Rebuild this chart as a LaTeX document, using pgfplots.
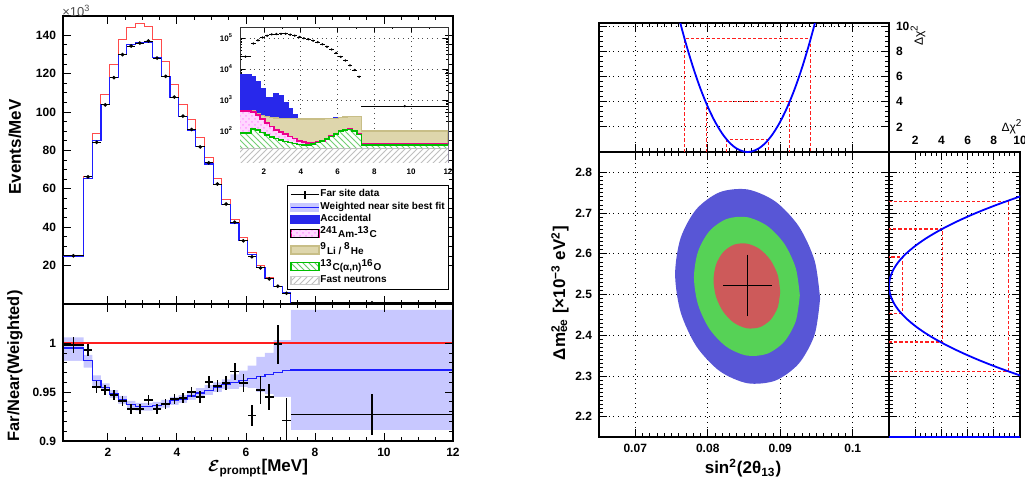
\documentclass[border=0pt]{standalone}
\usepackage{fontspec}
\setmainfont{Liberation Sans}
\usepackage{pgfplots}
\pgfplotsset{compat=1.18}
\usepackage{pgfplotstable}
\usetikzlibrary{patterns}

\definecolor{rootblue}{RGB}{30,30,255}
\definecolor{bandblue}{RGB}{200,200,255}
\definecolor{accblue}{RGB}{40,40,235}
\definecolor{litan}{RGB}{222,214,172}
\definecolor{litanline}{RGB}{200,190,135}
\definecolor{amcpink}{RGB}{255,215,255}
\definecolor{ellblue}{RGB}{88,86,214}
\definecolor{ellgreen}{RGB}{86,210,86}
\definecolor{ellred}{RGB}{205,90,90}
\definecolor{rootred}{RGB}{255,30,30}

\pgfplotsset{
  rootstyle/.style={
    scale only axis,
    scaled ticks=false,
    tick align=inside,
    axis line style={line width=0.6pt},
    major tick length=4pt, minor tick length=2pt,
    tick style={line width=0.4pt, black},
    tick label style={font=\bfseries\fontsize{6}{7}\selectfont},
    /pgf/number format/assume math mode=true,
  },
  rootgrid/.style={grid=major, grid style={dotted, black, line width=0.4pt}},
  chisq/.style={draw=rootred, color=rootred, dash pattern=on 1.6pt off 1pt, line width=0.7pt},
}

% prompt spectrum, per MeV (x10^3), bins given by lower edge
\pgfplotstableread{
lo    blue   red
0.7   25.0   25.1
1.3   65.5   66.5
1.55  85.0   89.0
1.8   104.0  109.0
2.05  118.0  125.0
2.3   130.0  138.0
2.55  135.0  143.8
2.8   136.2  146.0
3.05  136.0  144.5
3.3   128.5  138.0
3.55  118.6  126.4
3.8   107.6  114.3
4.05  97.8   103.9
4.3   90.5   95.9
4.55  82.1   86.6
4.8   72.9   76.5
5.05  62.4   65.4
5.3   52.0   54.3
5.55  42.1   43.9
5.8   33.0   34.4
6.05  25.6   26.6
6.3   19.1   19.8
6.55  13.4   13.9
6.8   9.0    9.3
7.05  5.9    6.1
7.3   0.63   0.65
12    0.63   0.65
}\spectrum

% far site data
\pgfplotstableread{
x      y      ex     ey    yi
1.0    25.1   0.3    0.5   25100
1.425  66.2   0.125  0.6   66200
1.675  84.2   0.125  0.6   84200
1.925  103.7  0.125  0.6   103700
2.175  117.9  0.125  0.6   117900
2.425  129.9  0.125  0.6   129900
2.675  134.4  0.125  0.6   134400
2.925  135.9  0.125  0.6   135900
3.175  137.0  0.125  0.6   137000
3.425  128.1  0.125  0.6   128100
3.675  118.6  0.125  0.6   118600
3.925  107.8  0.125  0.6   107800
4.175  97.9   0.125  0.6   97900
4.425  90.9   0.125  0.6   90900
4.675  81.8   0.125  0.6   81800
4.925  73.5   0.125  0.6   73500
5.175  62.5   0.125  0.6   62500
5.425  52.1   0.125  0.6   52100
5.675  42.6   0.125  0.6   42600
5.925  32.9   0.125  0.6   32900
6.175  24.6   0.125  0.5   24600
6.425  18.8   0.125  0.5   18800
6.675  13.1   0.125  0.4   13100
6.925  9.3    0.125  0.4   9300
7.175  5.6    0.125  0.3   5600
9.65   0.6    2.35   0.1   630
}\fardata

% far/near ratio: data points
\pgfplotstableread{
x      r      ex     er
1.0    0.998  0.3    0.008
1.425  0.993  0.125  0.006
1.675  0.955  0.125  0.006
1.925  0.952  0.125  0.005
2.175  0.947  0.125  0.005
2.425  0.941  0.125  0.005
2.675  0.933  0.125  0.005
2.925  0.933  0.125  0.005
3.175  0.942  0.125  0.005
3.425  0.933  0.125  0.005
3.675  0.938  0.125  0.005
3.925  0.943  0.125  0.005
4.175  0.944  0.125  0.005
4.425  0.950  0.125  0.005
4.675  0.945  0.125  0.006
4.925  0.960  0.125  0.006
5.175  0.956  0.125  0.006
5.425  0.959  0.125  0.007
5.675  0.971  0.125  0.009
5.925  0.959  0.125  0.009
6.175  0.926  0.125  0.011
6.425  0.952  0.125  0.014
6.675  0.945  0.125  0.013
6.925  0.999  0.125  0.020
7.175  0.921  0.125  0.023
9.65   0.927  2.35   0.021
}\ratiodata

% far/near ratio: weighted near prediction and its band
\pgfplotstableread{
lo    rb      up     low
0.7   0.995   1.006  0.982
1.3   0.982   0.988  0.975
1.55  0.962   0.967  0.956
1.8   0.955   0.959  0.951
2.05  0.948   0.952  0.944
2.3   0.942   0.946  0.938
2.55  0.937   0.941  0.933
2.8   0.935   0.939  0.931
3.05  0.935   0.939  0.931
3.3   0.936   0.940  0.932
3.55  0.938   0.942  0.934
3.8   0.941   0.945  0.937
4.05  0.943   0.947  0.939
4.3   0.946   0.950  0.942
4.55  0.949   0.954  0.944
4.8   0.952   0.957  0.947
5.05  0.955   0.960  0.950
5.3   0.958   0.963  0.953
5.55  0.960   0.968  0.953
5.8   0.962   0.972  0.955
6.05  0.964   0.977  0.954
6.3   0.966   0.986  0.950
6.55  0.968   0.990  0.948
6.8   0.970   1.003  0.945
7.05  0.972   1.003  0.945
7.3   0.9725  1.034  0.911
12    0.9725  1.034  0.911
}\ratiopred

% backgrounds, stacked tops (events/MeV)
\pgfplotstableread{
lo    acc   li    amc   an
0.7   6700  470   430   88
1.3   5500  440   400   117
1.55  3800  370   320   108
1.8   2300  320   240   90
2.05  1150  290   180   75
2.3   1150  272   140   65
2.55  1650  262   110   57
2.8   1350  255   92    51
3.05  800   250   78    46
3.3   520   248   66    42
3.55  330   246   57    39
3.8   252   245   49    37
4.05  250   244   44    36
4.3   250   243   41    36
4.55  250   243   41    38
4.8   250   243   44    42
5.05  250   244   49    47
5.3   252   246   57    55
5.55  256   250   68    66
5.8   262   256   82    80
6.05  276   270   100   98
6.3   290   284   112   110
6.55  300   294   114   112
6.8   300   294   102   100
7.05  290   285   80    78
7.3   104   100   37    35
12    104   100   37    35
}\bkg

\begin{document}
\begin{tikzpicture}
\useasboundingbox (0pt,0pt) rectangle (512.5pt,-244pt);

% ---------------- spectrum
\begin{axis}[rootstyle, at={(31.5pt,-8pt)}, anchor=north west,
  width=195pt, height=144pt,
  xmin=0.7, xmax=12, ymin=0, ymax=150,
  xtick={2,4,...,12}, xticklabels={}, minor x tick num=3,
  ytick={20,40,...,140}, minor y tick num=3,
  legend cell align=left,
  legend style={at={(0.574,0.413)}, anchor=north west, draw=black,
    line width=0.5pt, font=\bfseries\fontsize{5}{5.5}\selectfont,
    nodes={inner sep=0.45pt}, inner sep=1.5pt, row sep=0.2pt},
]
\addplot[const plot, color=rootred!80, line width=0.5pt, forget plot] table[x=lo, y=red] {\spectrum};
\addplot[const plot, color=rootblue, line width=0.6pt, forget plot] table[x=lo, y=blue] {\spectrum};
\addplot[black, only marks, mark=*, mark size=0.7pt, forget plot,
  error bars/.cd, x dir=both, x explicit, y dir=both, y explicit,
  error mark=none, error bar style={black, line width=0.45pt}]
  table[x=x, y=y, x error=ex, y error=ey] {\fardata};

\addlegendimage{legend image code/.code={
  \draw[black, line width=0.6pt] (0pt,0pt) -- (14pt,0pt);
  \draw[black, line width=0.6pt] (7pt,-2pt) -- (7pt,2pt);}}
\addlegendentry{Far site data}
\addlegendimage{legend image code/.code={
  \fill[bandblue] (0pt,-2pt) rectangle (14pt,2pt);
  \draw[rootblue, line width=0.5pt] (0pt,0pt) -- (14pt,0pt);}}
\addlegendentry{Weighted near site best fit}
\addlegendimage{legend image code/.code={
  \draw[accblue, fill=accblue, line width=0.6pt] (0pt,-2pt) rectangle (14pt,2pt);}}
\addlegendentry{Accidental}
\addlegendimage{legend image code/.code={
  \draw[magenta, fill=amcpink, line width=0.6pt] (0pt,-2pt) rectangle (14pt,2pt);
  \path[pattern=crosshatch dots, pattern color=magenta!40] (0pt,-2pt) rectangle (14pt,2pt);}}
\addlegendentry{\textsuperscript{241}Am-\textsuperscript{13}C}
\addlegendimage{legend image code/.code={
  \draw[litanline, fill=litan, line width=0.6pt] (0pt,-2pt) rectangle (14pt,2pt);}}
\addlegendentry{\textsuperscript{9}Li / \textsuperscript{8}He}
\addlegendimage{legend image code/.code={
  \path[pattern=north west lines, pattern color=green!65!black!60] (0pt,-2pt) rectangle (14pt,2pt);
  \draw[green!75!black, line width=0.6pt] (0pt,-2pt) rectangle (14pt,2pt);}}
\addlegendentry{\textsuperscript{13}C(α,n)\textsuperscript{16}O}
\addlegendimage{legend image code/.code={
  \path[pattern=north east lines, pattern color=black!25] (0pt,-2pt) rectangle (14pt,2pt);
  \draw[black!20, line width=0.6pt] (0pt,-2pt) rectangle (14pt,2pt);}}
\addlegendentry{Fast neutrons}
\end{axis}

% ---------------- ratio
\begin{axis}[rootstyle, at={(31.5pt,-152pt)}, anchor=north west,
  width=195pt, height=68.5pt, axis on top,
  xmin=0.7, xmax=12, ymin=0.9, ymax=1.04,
  xtick={2,4,...,12}, minor x tick num=3,
  ytick={0.9,0.95,1}, yticklabels={0.9,0.95,1}, minor y tick num=4,
]
\addplot[const plot, fill=bandblue, draw=none] table[x=lo, y=up] {\ratiopred} \closedcycle;
\addplot[const plot, fill=white, draw=none] table[x=lo, y=low] {\ratiopred} \closedcycle;
\addplot[draw=rootred, color=rootred, line width=0.7pt] coordinates {(0.7,1) (12,1)};
\addplot[const plot, color=rootblue, line width=0.6pt] table[x=lo, y=rb] {\ratiopred};
\addplot[black, only marks, mark=*, mark size=0pt,
  error bars/.cd, x dir=both, x explicit, y dir=both, y explicit,
  error mark=none, error bar style={black, line width=0.8pt}]
  table[x=x, y=r, x error=ex, y error=er] {\ratiodata};
\end{axis}

% ---------------- inset, log scale
\begin{axis}[rootstyle, at={(120pt,-13.5pt)}, anchor=north west,
  width=104pt, height=67.5pt, ymode=log,
  xmin=0.7, xmax=12, ymin=10, ymax=2.26e5,
  xtick={2,4,...,12}, minor x tick num=1,
  ytick={1e2,1e3,1e4,1e5},
  yticklabels={10\textsuperscript{2},10\textsuperscript{3},10\textsuperscript{4},10\textsuperscript{5}},
  tick label style={font=\bfseries\fontsize{4}{5}\selectfont},
  major tick length=2.5pt, minor tick length=1.2pt,
  grid=major, grid style={dotted, black!70, line width=0.35pt},
  axis line style={line width=0.5pt, black!80},
]
\addplot[const plot, fill=accblue, draw=accblue, line width=0.7pt] table[x=lo, y=acc] {\bkg} \closedcycle;
\addplot[const plot, fill=litan, draw=litanline, line width=0.6pt] table[x=lo, y=li] {\bkg} \closedcycle;
\addplot[const plot, fill=amcpink, draw=none,
  postaction={pattern=crosshatch dots, pattern color=magenta!40}] table[x=lo, y=amc] {\bkg} \closedcycle;
\addplot[const plot, fill=white, draw=none,
  postaction={pattern=north west lines, pattern color=green!65!black!55}] table[x=lo, y=an] {\bkg} \closedcycle;
\addplot[const plot, fill=white, draw=none,
  postaction={pattern=north east lines, pattern color=black!25}] coordinates {(0.7,27) (12,27)} \closedcycle;
\addplot[black!25, line width=0.6pt] coordinates {(0.7,27) (12,27)};
\addplot[const plot, magenta, line width=0.9pt] table[x=lo, y=amc] {\bkg};
\addplot[const plot, green!75!black, line width=0.8pt] table[x=lo, y=an] {\bkg};
\addplot[black, only marks, mark=*, mark size=0.35pt,
  error bars/.cd, x dir=both, x explicit, error mark=none,
  error bar style={black, line width=0.4pt}]
  table[x=x, y=yi, x error=ex] {\fardata};
\end{axis}

% ---------------- allowed regions
\begin{axis}[rootstyle, rootgrid, at={(299.5pt,-76pt)}, anchor=north west,
  width=145pt, height=142.5pt,
  xmin=0.065, xmax=0.105, ymin=2.15, ymax=2.85,
  xtick={0.07,0.08,0.09,0.1}, xticklabels={0.07,0.08,0.09,0.1},
  ytick={2.2,2.3,2.4,2.5,2.6,2.7,2.8},
  yticklabels={2.2,2.3,2.4,2.5,2.6,2.7,2.8},
  minor x tick num=9, minor y tick num=9,
]
\addplot[smooth, fill=ellblue, draw=none] coordinates {
 (0.0955,2.490) (0.09474,2.5834) (0.09257,2.6671) (0.08933,2.7284) (0.0855,2.758)
 (0.08167,2.7514) (0.07843,2.7095) (0.07626,2.6388) (0.0755,2.550) (0.07626,2.4566)
 (0.07843,2.3729) (0.08167,2.3116) (0.0855,2.282) (0.08933,2.2886) (0.09257,2.3305)
 (0.09474,2.4012) (0.0955,2.490)};
\addplot[smooth, fill=ellgreen, draw=none] coordinates {
 (0.0927,2.498) (0.09214,2.5647) (0.09056,2.6247) (0.08819,2.6686) (0.0854,2.690)
 (0.08261,2.6855) (0.08024,2.6558) (0.07866,2.6054) (0.0781,2.542) (0.07866,2.4753)
 (0.08024,2.4154) (0.08261,2.3714) (0.0854,2.350) (0.08819,2.3545) (0.09056,2.3842)
 (0.09214,2.4346) (0.0927,2.498)};
\addplot[smooth, fill=ellred, draw=none] coordinates {
 (0.0900,2.507) (0.08965,2.5479) (0.08865,2.5846) (0.08716,2.6117) (0.0854,2.625)
 (0.08364,2.6225) (0.08215,2.6044) (0.08115,2.5737) (0.0808,2.535) (0.08115,2.4941)
 (0.08215,2.4574) (0.08364,2.4303) (0.0854,2.417) (0.08716,2.4196) (0.08865,2.4376)
 (0.08965,2.4683) (0.0900,2.507)};
\addplot[black, only marks, mark=*, mark size=0pt,
  error bars/.cd, x dir=both, y dir=both, x explicit, y explicit,
  error bar style={black, line width=0.5pt},
  error mark options={black, mark size=1.2pt, line width=0.5pt}]
  coordinates {(0.0855,2.522) +- (0.003,0.07)};
\end{axis}

% ---------------- delta chi2 vs sin2(2theta13)
\begin{axis}[rootstyle, rootgrid, at={(299.5pt,-11.5pt)}, anchor=north west,
  width=145pt, height=64.5pt,
  xmin=0.065, xmax=0.105, ymin=0, ymax=10.25,
  xtick={0.07,0.08,0.09,0.1}, xticklabels={}, minor x tick num=9,
  ytick={2,4,6,8,10}, yticklabel pos=right, minor y tick num=4,
]
\addplot[chisq] coordinates {(0.0826,0) (0.0826,1) (0.0884,1) (0.0884,0)};
\addplot[chisq] coordinates {(0.0798,0) (0.0798,4) (0.0913,4) (0.0913,0)};
\addplot[chisq] coordinates {(0.0768,0) (0.0768,9) (0.0942,9) (0.0942,0)};
\addplot[smooth, color=blue, line width=0.9pt] coordinates {
 (0.0762,10.28) (0.077,8.59) (0.078,6.69) (0.079,5.02) (0.080,3.60) (0.081,2.41)
 (0.082,1.46) (0.083,0.743) (0.084,0.268) (0.085,0.030) (0.0855,0) (0.086,0.030)
 (0.087,0.268) (0.088,0.743) (0.089,1.46) (0.090,2.41) (0.091,3.60) (0.092,5.02)
 (0.093,6.69) (0.094,8.59) (0.0948,10.28)};
\end{axis}

% ---------------- delta chi2 vs delta m2
\begin{axis}[rootstyle, rootgrid, at={(444.5pt,-76pt)}, anchor=north west,
  width=65.5pt, height=142.5pt,
  xmin=0, xmax=10, ymin=2.15, ymax=2.85,
  xtick={2,4,6,8,10}, xticklabel pos=top, minor x tick num=4,
  ytick={2.2,2.3,2.4,2.5,2.6,2.7,2.8}, yticklabels={}, minor y tick num=9,
]
\addplot[chisq] coordinates {(0,2.454) (1.05,2.454) (1.05,2.592) (0,2.592)};
\addplot[chisq] coordinates {(0,2.383) (4.1,2.383) (4.1,2.661) (0,2.661)};
\addplot[chisq] coordinates {(0,2.311) (9.1,2.311) (9.1,2.728) (0,2.728)};
\addplot[smooth, color=blue, line width=0.9pt] coordinates {
 (10.11,2.30) (8.36,2.32) (6.78,2.34) (5.37,2.36) (4.12,2.38) (3.03,2.40) (2.11,2.42)
 (1.36,2.44) (0.770,2.46) (0.348,2.48) (0.091,2.50) (0,2.521) (0.075,2.54) (0.315,2.56)
 (0.721,2.58) (1.29,2.60) (2.03,2.62) (2.93,2.64) (4.00,2.66) (5.23,2.68) (6.63,2.70)
 (8.20,2.72) (9.93,2.74) (10.39,2.745)};
\addplot[color=blue, line width=0.9pt] coordinates {(0,2.15) (10,2.15)};
\end{axis}

% ---------------- labels
\node[anchor=south west, inner sep=0pt, text=black!70, font=\fontsize{6.5}{7}\selectfont]
  at (31pt,-8.3pt) {×10\textsuperscript{3}};
\node[rotate=90, font=\bfseries\fontsize{8.5}{10}\selectfont] at (7.5pt,-73.5pt) {Events/MeV};
\node[rotate=90, font=\bfseries\fontsize{8.2}{10}\selectfont] at (7.5pt,-183pt) {Far/Near(Weighted)};
\node[font=\bfseries\fontsize{8.5}{10}\selectfont] at (129pt,-234pt)
  {{\boldmath$\mathcal{E}$}\textsubscript{prompt}[MeV]};
\node[font=\bfseries\fontsize{8.5}{10}\selectfont] at (371.5pt,-234pt)
  {sin\textsuperscript{2}(2θ\textsubscript{13})};
\node[rotate=90, font=\bfseries\fontsize{8.5}{10}\selectfont] at (280pt,-146.5pt)
  {Δm\rlap{\textsuperscript{2}}\textsubscript{ee} [×10\textsuperscript{−3} eV\textsuperscript{2}]};
\node[rotate=90, font=\fontsize{6}{7}\selectfont] at (459pt,-17.5pt) {Δχ\textsuperscript{2}};
\node[font=\fontsize{6}{7}\selectfont] at (506pt,-63.5pt) {Δχ\textsuperscript{2}};
\end{tikzpicture}
\end{document}
